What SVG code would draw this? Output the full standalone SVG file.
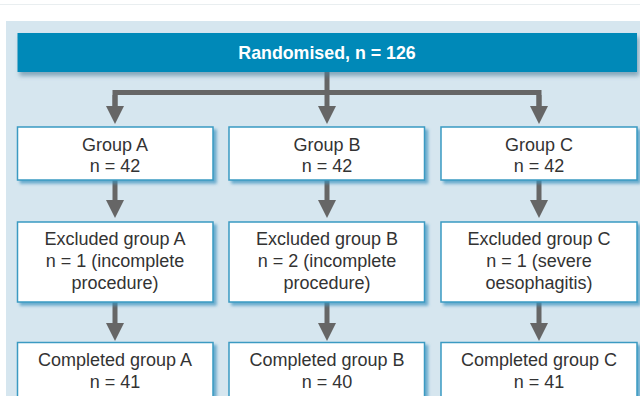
<svg xmlns="http://www.w3.org/2000/svg" width="640" height="396" viewBox="0 0 640 396">
  <defs>
    <filter id="sh" x="-10%" y="-20%" width="130%" height="150%">
      <feDropShadow dx="3" dy="3" stdDeviation="1.5" flood-color="#3e93bf" flood-opacity="0.7"/>
    </filter>
    <filter id="shh" x="-10%" y="-20%" width="130%" height="150%">
      <feDropShadow dx="2" dy="4" stdDeviation="2" flood-color="#4f7f98" flood-opacity="0.6"/>
    </filter>
    <marker id="ah" viewBox="0 0 18 18" refX="0" refY="9" markerWidth="18" markerHeight="18" markerUnits="userSpaceOnUse" orient="auto">
      <path d="M0,0 L18,9 L0,18 Z" fill="#666"/>
    </marker>
  </defs>
  <style>
    .box { fill: #ffffff; stroke: #3a9ac2; stroke-width: 1.5; filter: url(#sh); }
    .t { font-family: "Liberation Sans", Arial, sans-serif; font-size: 18px; fill: #333333; text-anchor: middle; }
    .h { font-family: "Liberation Sans", Arial, sans-serif; font-size: 17.8px; font-weight: bold; fill: #ffffff; text-anchor: middle; }
    .c { fill: none; stroke: #666666; stroke-width: 5; }
  </style>
  <rect x="0" y="0" width="640" height="396" fill="#ffffff"/>
  <line x1="0" y1="4.5" x2="640" y2="4.5" stroke="#e9eef0" stroke-width="1"/>
  <rect x="6" y="21" width="634" height="375" fill="#d6e6ef"/>

  <g id="connectors">
    <path class="c" d="M115,106 V92.5 H539 V106"/>
    <line class="c" x1="327" y1="72" x2="327" y2="106" marker-end="url(#ah)"/>
    <line class="c" x1="115" y1="95" x2="115" y2="106" marker-end="url(#ah)"/>
    <line class="c" x1="539" y1="95" x2="539" y2="106" marker-end="url(#ah)"/>
    <line class="c" x1="115" y1="180" x2="115" y2="200" marker-end="url(#ah)"/>
    <line class="c" x1="327" y1="180" x2="327" y2="200" marker-end="url(#ah)"/>
    <line class="c" x1="539" y1="180" x2="539" y2="200" marker-end="url(#ah)"/>
    <line class="c" x1="115" y1="302" x2="115" y2="323" marker-end="url(#ah)"/>
    <line class="c" x1="327" y1="302" x2="327" y2="323" marker-end="url(#ah)"/>
    <line class="c" x1="539" y1="302" x2="539" y2="323" marker-end="url(#ah)"/>
  </g>

  <g id="randomised">
    <rect x="17.5" y="33" width="619.5" height="39" fill="#0089b8" filter="url(#shh)"/>
    <text class="h" x="327" y="58.5">Randomised, n = 126</text>
  </g>

  <g id="groupA">
    <rect class="box" x="17.5" y="127" width="195.5" height="53"/>
    <text class="t" x="115" y="150.5">Group A</text>
    <text class="t" x="115" y="172">n = 42</text>
  </g>
  <g id="groupB">
    <rect class="box" x="229" y="127" width="195.5" height="53"/>
    <text class="t" x="327" y="150.5">Group B</text>
    <text class="t" x="327" y="172">n = 42</text>
  </g>
  <g id="groupC">
    <rect class="box" x="441" y="127" width="196" height="53"/>
    <text class="t" x="539" y="150.5">Group C</text>
    <text class="t" x="539" y="172">n = 42</text>
  </g>

  <g id="excludedA">
    <rect class="box" x="17.5" y="222" width="195.5" height="80"/>
    <text class="t" x="115" y="245">Excluded group A</text>
    <text class="t" x="115" y="267">n = 1 (incomplete</text>
    <text class="t" x="115" y="289">procedure)</text>
  </g>
  <g id="excludedB">
    <rect class="box" x="229" y="222" width="195.5" height="80"/>
    <text class="t" x="327" y="245">Excluded group B</text>
    <text class="t" x="327" y="267">n = 2 (incomplete</text>
    <text class="t" x="327" y="289">procedure)</text>
  </g>
  <g id="excludedC">
    <rect class="box" x="441" y="222" width="196" height="80"/>
    <text class="t" x="539" y="245">Excluded group C</text>
    <text class="t" x="539" y="267">n = 1 (severe</text>
    <text class="t" x="539" y="289">oesophagitis)</text>
  </g>

  <g id="completedA">
    <rect class="box" x="17.5" y="342.5" width="195.5" height="60"/>
    <text class="t" x="115" y="365.5">Completed group A</text>
    <text class="t" x="115" y="387.5">n = 41</text>
  </g>
  <g id="completedB">
    <rect class="box" x="229" y="342.5" width="195.5" height="60"/>
    <text class="t" x="327" y="365.5">Completed group B</text>
    <text class="t" x="327" y="387.5">n = 40</text>
  </g>
  <g id="completedC">
    <rect class="box" x="441" y="342.5" width="196" height="60"/>
    <text class="t" x="539" y="365.5">Completed group C</text>
    <text class="t" x="539" y="387.5">n = 41</text>
  </g>
</svg>
